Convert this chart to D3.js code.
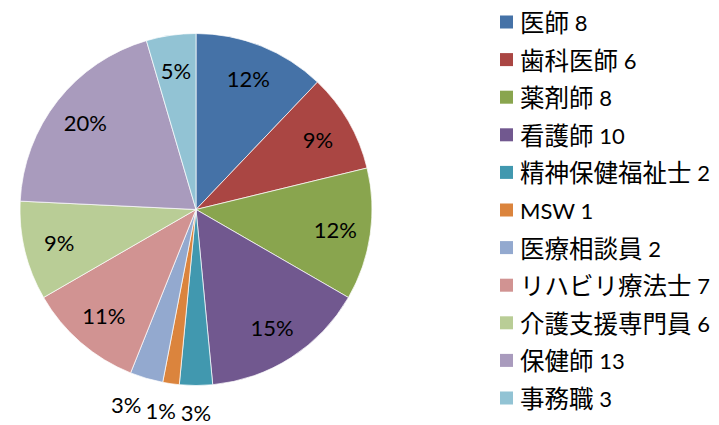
<!DOCTYPE html>
<html><head><meta charset="utf-8">
<script src="https://cdn.jsdelivr.net/npm/d3@7"></script>
<style>html,body{margin:0;padding:0;background:#fff;}</style>
</head><body>
<svg id="chart" width="719" height="425"></svg>
<script>
const categories = ["医師","歯科医師","薬剤師","看護師","精神保健福祉士","MSW","医療相談員","リハビリ療法士","介護支援専門員","保健師","事務職"];
const values = [8,6,8,10,2,1,2,7,6,13,3];
const pctLabels = ["12%","9%","12%","15%","3%","1%","3%","11%","9%","20%","5%"];
const colors = ["#4572A7","#AA4643","#89A54E","#71588F","#4198AF","#DB843D","#93A9CF","#D19392","#B9CD96","#A99BBD","#92C3D4"];

const svg = d3.select("#chart");
const cx = 196, cy = 209.5, R = 176;
const total = d3.sum(values);
const data = categories.map((c,i)=>({cat:c, value:values[i], color:colors[i], pct:pctLabels[i]}));

const pie = d3.pie().value(d=>d.value).sort(null);
const arcs = pie(data);
const arc = d3.arc().innerRadius(0).outerRadius(R);
const labelArc = d3.arc().innerRadius(R*0.8).outerRadius(R*0.8);

const g = svg.append("g").attr("transform",`translate(${cx},${cy})`);
g.selectAll("path").data(arcs).join("path")
  .attr("d",arc).attr("fill",d=>d.data.color)
  .attr("stroke","#fff").attr("stroke-width",0.7);

g.selectAll("text.pct").data(arcs).join("text")
  .attr("class","pct")
  .attr("font-family","Lato, 'Noto Sans CJK JP', sans-serif")
  .attr("font-size",22)
  .attr("fill","#000")
  .attr("text-anchor","middle")
  .attr("dominant-baseline","central")
  .attr("transform",d=>{
    const share = d.data.value/total;
    if (share < 0.04) {
      const a = (d.startAngle+d.endAngle)/2;
      const r = R + 27;
      const x = Math.sin(a)*(r + 45);
      const y = -Math.cos(a)*r;
      return `translate(${x},${y})`;
    }
    const [x,y] = labelArc.centroid(d);
    return `translate(${x},${y})`;
  })
  .text(d=>d.data.pct);

const legend = svg.append("g").attr("transform","translate(500,22)");
const rowH = 37.6;
const item = legend.selectAll("g").data(data).join("g")
  .attr("transform",(d,i)=>`translate(0,${i*rowH})`);
item.append("rect").attr("x",0).attr("y",-6.5).attr("width",13).attr("height",13).attr("fill",d=>d.color);
const t = item.append("text").attr("x",20).attr("y",0)
  .attr("dominant-baseline","central")
  .attr("font-family","Lato, 'Noto Sans CJK JP', sans-serif")
  .attr("fill","#000");
t.append("tspan").attr("font-size",d=>/^[A-Za-z]/.test(d.cat)?22:24.5).text(d=>d.cat);
t.append("tspan").attr("font-size",22).text(d=>" "+d.value);
</script>
</body></html>
